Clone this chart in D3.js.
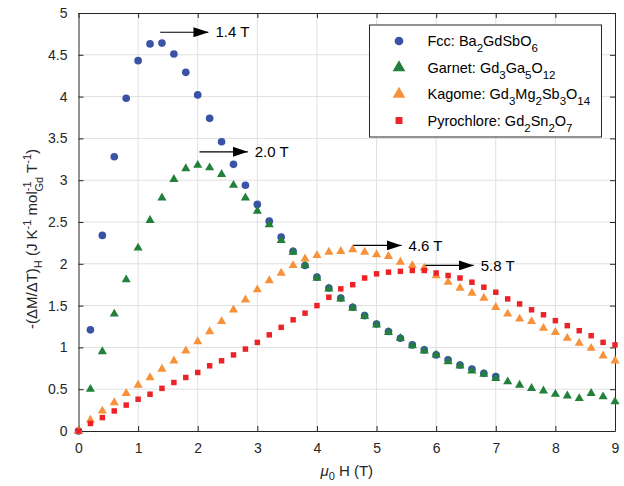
<!DOCTYPE html>
<meta charset="utf-8">
<style>
body { margin: 0; background: #fff; }
svg { font-family: "Liberation Sans", Arial, sans-serif; }
.grid line { stroke: #dfdfdf; stroke-width: 1; }
.axis text { fill: #262626; font-size: 14px; }
.axis line, .axis path { stroke: #262626; }
</style>
<svg width="624" height="486"></svg>
<script src="https://cdn.jsdelivr.net/npm/d3@7"></script>
<script>

// field values (T)
var field = [0, 0.2, 0.4, 0.6, 0.8, 1.0, 1.2, 1.4, 1.6, 1.8, 2.0, 2.2, 2.4, 2.6, 2.8, 3.0,
  3.2, 3.4, 3.6, 3.8, 4.0, 4.2, 4.4, 4.6, 4.8, 5.0, 5.2, 5.4, 5.6, 5.8, 6.0, 6.2,
  6.4, 6.6, 6.8, 7.0, 7.2, 7.4, 7.6, 7.8, 8.0, 8.2, 8.4, 8.6, 8.8, 9.0];

var fcc = [0, 1.21, 2.34, 3.28, 3.98, 4.43, 4.63, 4.64, 4.51, 4.29, 4.02, 3.74, 3.46, 3.19, 2.94, 2.71,
  2.51, 2.32, 2.15, 1.98, 1.84, 1.71, 1.59, 1.48, 1.38, 1.28, 1.19, 1.11, 1.03, 0.97, 0.91, 0.85,
  0.79, 0.74, 0.69, 0.65];

var garnet = [0, 0.50, 0.95, 1.40, 1.81, 2.19, 2.52, 2.79, 3.01, 3.14, 3.18, 3.15, 3.07, 2.94, 2.79, 2.63,
  2.47, 2.28, 2.14, 1.98, 1.83, 1.70, 1.58, 1.47, 1.37, 1.27, 1.18, 1.11, 1.02, 0.96, 0.91, 0.83,
  0.78, 0.72, 0.68, 0.63, 0.59, 0.55, 0.51, 0.48, 0.44, 0.42, 0.39, 0.45, 0.41, 0.35];

var kagome = [0, 0.13, 0.24, 0.34, 0.45, 0.55, 0.64, 0.74, 0.84, 0.96, 1.07, 1.19, 1.31, 1.45, 1.57, 1.69,
  1.80, 1.89, 1.98, 2.06, 2.10, 2.14, 2.15, 2.17, 2.14, 2.11, 2.09, 2.02, 1.98, 1.95, 1.86, 1.78,
  1.71, 1.65, 1.59, 1.48, 1.40, 1.34, 1.31, 1.23, 1.18, 1.11, 1.05, 0.99, 0.90, 0.84];

var pyro = [0, 0.09, 0.16, 0.24, 0.31, 0.38, 0.44, 0.51, 0.58, 0.64, 0.70, 0.78, 0.84, 0.91, 0.98, 1.06,
  1.15, 1.24, 1.33, 1.41, 1.50, 1.60, 1.70, 1.75, 1.83, 1.88, 1.90, 1.91, 1.92, 1.92, 1.89, 1.86,
  1.83, 1.78, 1.72, 1.66, 1.58, 1.52, 1.45, 1.39, 1.32, 1.26, 1.20, 1.14, 1.06, 1.03];

var xTicks = [0, 1, 2, 3, 4, 5, 6, 7, 8, 9];
var yTicks = [0, 0.5, 1, 1.5, 2, 2.5, 3, 3.5, 4, 4.5, 5];

// peak annotations
var annField = [1.37, 2.03, 4.61, 5.82];
var annLevel = [4.77, 3.34, 2.22, 1.98];
var annText = ["1.4 T", "2.0 T", "4.6 T", "5.8 T"];

var svg = d3.select("svg"),
    margin = {top: 13, right: 9, bottom: 55, left: 78.5},
    width = +svg.attr("width") - margin.left - margin.right,
    height = +svg.attr("height") - margin.top - margin.bottom;

var x = d3.scaleLinear().domain([0, 9]).range([0, width]);
var y = d3.scaleLinear().domain([0, 5]).range([height, 0]);

var g = svg.append("g").attr("transform", "translate(" + margin.left + "," + margin.top + ")");

// grid
var grid = g.append("g").attr("class", "grid");
grid.selectAll(".gx").data(xTicks.slice(1, -1)).enter().append("line")
    .attr("x1", function(d) { return x(d); }).attr("x2", function(d) { return x(d); })
    .attr("y1", 0).attr("y2", height);
grid.selectAll(".gy").data(yTicks.slice(1, -1)).enter().append("line")
    .attr("y1", function(d) { return y(d); }).attr("y2", function(d) { return y(d); })
    .attr("x1", 0).attr("x2", width);

// axes, ticks inward on all four sides
g.append("g").attr("class", "axis").attr("transform", "translate(0," + height + ")")
    .call(d3.axisBottom(x).tickValues(xTicks).tickSizeInner(-5).tickSizeOuter(0).tickPadding(12))
    .call(function(a) { a.selectAll("text").attr("dy", "0.71em"); });
g.append("g").attr("class", "axis")
    .call(d3.axisLeft(y).tickValues(yTicks).tickFormat(d3.format("")).tickSizeInner(-5).tickSizeOuter(0).tickPadding(11));
g.append("g").attr("class", "axis")
    .call(d3.axisTop(x).tickValues(xTicks).tickSizeInner(-5).tickSizeOuter(0).tickFormat(""));
g.append("g").attr("class", "axis").attr("transform", "translate(" + width + ",0)")
    .call(d3.axisRight(y).tickValues(yTicks).tickSizeInner(-5).tickSizeOuter(0).tickFormat(""));

// series
var series = [
  {name: "fcc", values: fcc, color: "#3a53a6", shape: d3.symbolCircle, size: 46},
  {name: "garnet", values: garnet, color: "#23803a", shape: d3.symbolTriangle, size: 36},
  {name: "kagome", values: kagome, color: "#f7923a", shape: d3.symbolTriangle, size: 36},
  {name: "pyro", values: pyro, color: "#ec2227", shape: d3.symbolSquare, size: 30}
];

var plot = g.append("g");
series.forEach(function(s) {
  plot.append("g").selectAll("path")
    .data(s.values)
    .enter().append("path")
      .attr("transform", function(d, i) { return "translate(" + x(field[i]) + "," + y(d) + ")"; })
      .attr("d", d3.symbol().type(s.shape).size(s.size))
      .attr("fill", s.color);
});

// annotations
svg.append("defs").append("marker")
    .attr("id", "head")
    .attr("viewBox", "0 0 15 10")
    .attr("refX", 15).attr("refY", 5)
    .attr("markerWidth", 15).attr("markerHeight", 10)
    .attr("markerUnits", "userSpaceOnUse")
    .attr("orient", "auto")
  .append("path")
    .attr("d", "M0,0L15,5L0,10Z")
    .attr("fill", "#000");

var ann = g.append("g");
annField.forEach(function(f, i) {
  ann.append("line")
      .attr("x1", x(f)).attr("x2", x(f + 0.81))
      .attr("y1", y(annLevel[i])).attr("y2", y(annLevel[i]))
      .attr("stroke", "#000").attr("stroke-width", 1.2)
      .attr("marker-end", "url(#head)");
  ann.append("text")
      .attr("x", x(f + 0.81) + 7)
      .attr("y", y(annLevel[i]))
      .attr("dy", "0.35em")
      .attr("font-size", 15)
      .attr("fill", "#000")
      .text(annText[i]);
});

// legend
var legend = g.append("g").attr("transform", "translate(" + (369.5 - margin.left) + "," + (25 - margin.top) + ")");
legend.append("rect")
    .attr("width", 232).attr("height", 112)
    .attr("fill", "#fff").attr("stroke", "#262626").attr("stroke-width", 1);

var legendParts = [
  [["Fcc: Ba", 0], ["2", 1], ["GdSbO", 0], ["6", 1]],
  [["Garnet: Gd", 0], ["3", 1], ["Ga", 0], ["5", 1], ["O", 0], ["12", 1]],
  [["Kagome: Gd", 0], ["3", 1], ["Mg", 0], ["2", 1], ["Sb", 0], ["3", 1], ["O", 0], ["14", 1]],
  [["Pyrochlore: Gd", 0], ["2", 1], ["Sn", 0], ["2", 1], ["O", 0], ["7", 1]]
];
var legendSizes = [60, 70, 70, 48];

series.forEach(function(s, i) {
  var row = legend.append("g").attr("transform", "translate(0," + (16 + i * 26.5) + ")");
  row.append("path")
      .attr("transform", "translate(29.5,0)")
      .attr("d", d3.symbol().type(s.shape).size(legendSizes[i]))
      .attr("fill", s.color);
  var t = row.append("text").attr("x", 58).attr("y", 0).attr("dy", "0.35em")
      .attr("font-size", 14.5).attr("fill", "#000");
  var low = false;
  legendParts[i].forEach(function(p) {
    var sp = t.append("tspan").text(p[0]);
    if (p[1] && !low) { sp.attr("dy", 6).attr("font-size", 11.5); low = true; }
    else if (p[1]) { sp.attr("font-size", 11.5); }
    else if (low) { sp.attr("dy", -6); low = false; }
  });
});

// axis labels
var xl = svg.append("text")
    .attr("x", margin.left + width / 2)
    .attr("y", 476)
    .attr("text-anchor", "middle")
    .attr("font-size", 15)
    .attr("fill", "#262626");
xl.append("tspan").attr("font-style", "italic").text("\u03bc");
xl.append("tspan").attr("font-size", 11).attr("dy", 4).text("0");
xl.append("tspan").attr("dy", -4).text(" H (T)");

var yl = svg.append("text")
    .attr("transform", "translate(37," + 239 + ")rotate(-90)")
    .attr("text-anchor", "middle")
    .attr("font-size", 15)
    .attr("fill", "#262626");
yl.append("tspan").text("-(\u0394M/\u0394T)");
yl.append("tspan").attr("font-size", 11).attr("dy", 5).text("H");
yl.append("tspan").attr("dy", -5).text(" (J K");
yl.append("tspan").attr("font-size", 11).attr("dy", -6).text("-1");
yl.append("tspan").attr("dy", 6).text(" mol");
yl.append("tspan").attr("font-size", 11).attr("dy", -6).text("-1");
yl.append("tspan").attr("font-size", 11).attr("dx", -10).attr("dy", 12).text("Gd");
yl.append("tspan").attr("dy", -6).text(" T");
yl.append("tspan").attr("font-size", 11).attr("dy", -6).text("-1");
yl.append("tspan").attr("dy", 6).text(")");

</script>
